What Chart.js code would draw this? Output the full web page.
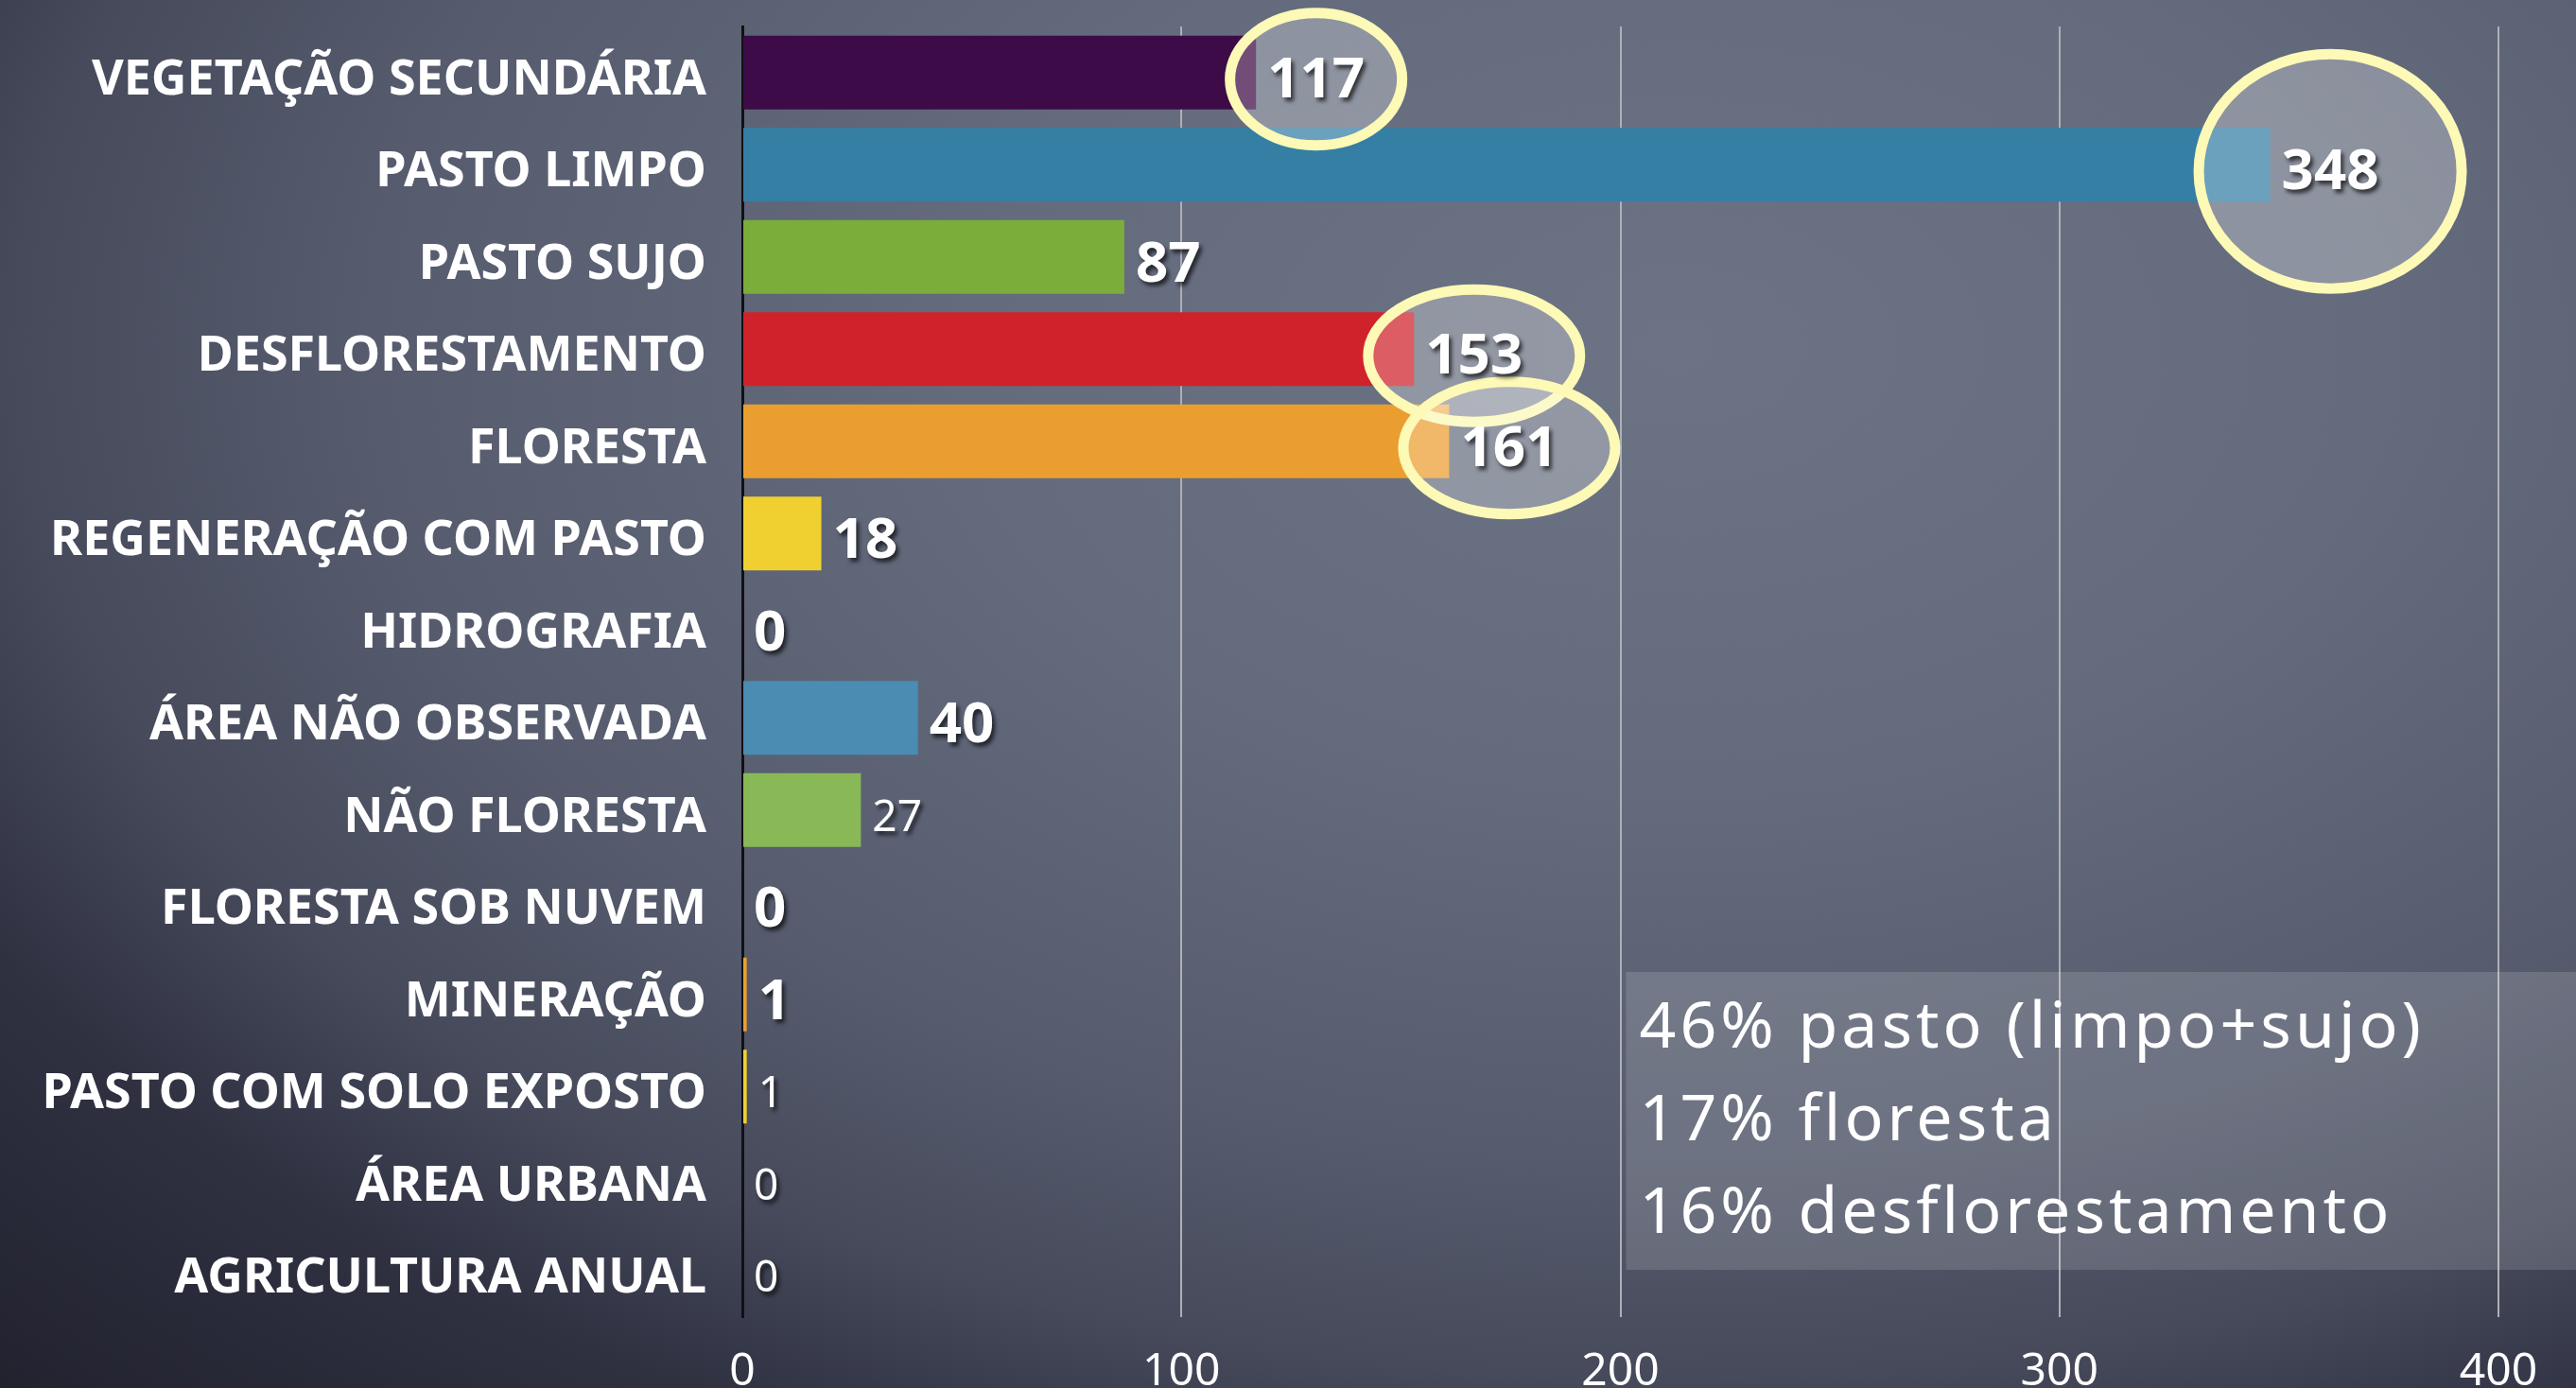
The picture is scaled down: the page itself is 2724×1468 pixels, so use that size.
<!DOCTYPE html>
<html>
<head>
<meta charset="utf-8">
<script src="https://cdn.jsdelivr.net/npm/chart.js@4.4.0/dist/chart.umd.min.js"></script>
<style>
  html, body { margin: 0; padding: 0; width: 2724px; height: 1468px; overflow: hidden; }
  body {
    background: radial-gradient(ellipse at 65% 25%, #6c7384 0%, #646b7d 30%, #565c6e 55%, #464a5b 70%, #2f3141 82%, #22222f 100%);
  }
  canvas { display: block; }
</style>
</head>
<body>
<canvas id="chart" width="2724" height="1468"></canvas>
<script>
const categories = [
  "VEGETAÇÃO SECUNDÁRIA", "PASTO LIMPO", "PASTO SUJO", "DESFLORESTAMENTO", "FLORESTA",
  "REGENERAÇÃO COM PASTO", "HIDROGRAFIA", "ÁREA NÃO OBSERVADA", "NÃO FLORESTA",
  "FLORESTA SOB NUVEM", "MINERAÇÃO", "PASTO COM SOLO EXPOSTO", "ÁREA URBANA", "AGRICULTURA ANUAL"
];
const values = [117, 348, 87, 153, 161, 18, 0, 40, 27, 0, 1, 1, 0, 0];
const xTicks = [0, 100, 200, 300, 400];
const highlighted = [0, 1, 3, 4];
const notes = ["46% pasto (limpo+sujo)", "17% floresta", "16% desflorestamento"];

// styles
const barColors = ["#3d0b47", "#357fa5", "#7aad3a", "#d0222b", "#eb9e30", "#f0d030",
                   "#3d0b47", "#4a8cb2", "#89b856", "#d0222b", "#eb9e30", "#f0d030",
                   "#3d0b47", "#4a8cb2"];
const bigLabel = [true, true, true, true, true, true, true, true, false, true, true, false, false, false];
const circleSize = { 0: [91, 70], 1: [139, 124], 3: [112, 70], 4: [112, 70] };
const FONT = "'Noto Sans', 'DejaVu Sans', sans-serif";

const annotations = {
  id: "annotations",
  afterDatasetsDraw(chart) {
    const ctx = chart.ctx;
    const meta = chart.getDatasetMeta(0);
    const labelFont = i => bigLabel[i] ? "bold 60px " + FONT : "46px " + FONT;

    // highlight circles
    highlighted.forEach(i => {
      const bar = meta.data[i];
      ctx.save();
      ctx.font = labelFont(i);
      const w = ctx.measureText(String(values[i])).width;
      const cx = bar.x + 12 + w / 2;
      const cy = bar.y + 7;
      const [rx, ry] = circleSize[i];
      ctx.beginPath();
      ctx.ellipse(cx, cy, rx, ry, 0, 0, Math.PI * 2);
      ctx.fillStyle = "rgba(255,255,255,0.27)";
      ctx.fill();
      ctx.lineWidth = 11;
      ctx.strokeStyle = "#fdf9b6";
      ctx.stroke();
      ctx.restore();
    });

    // value labels
    meta.data.forEach((bar, i) => {
      ctx.save();
      ctx.font = labelFont(i);
      ctx.fillStyle = "#ffffff";
      ctx.textAlign = "left";
      ctx.textBaseline = "middle";
      ctx.shadowColor = "rgba(0,0,0,0.65)";
      ctx.shadowOffsetX = 3;
      ctx.shadowOffsetY = 4;
      ctx.shadowBlur = 4;
      ctx.fillText(String(values[i]), bar.x + 12, bar.y + 9);
      ctx.restore();
    });
  },
  afterDraw(chart) {
    const ctx = chart.ctx;
    const xs = chart.scales.x;
    const left = xs.getPixelForValue(200) + 6;
    ctx.save();
    ctx.fillStyle = "rgba(255,255,255,0.14)";
    ctx.fillRect(left, 1028, chart.width - left, 315);
    ctx.fillStyle = "#ffffff";
    ctx.font = "68px " + FONT;
    ctx.letterSpacing = "4px";
    ctx.textAlign = "left";
    ctx.textBaseline = "middle";
    notes.forEach((t, k) => ctx.fillText(t, left + 14, 1089 + k * 98));
    ctx.restore();
  }
};

new Chart(document.getElementById("chart").getContext("2d"), {
  type: "bar",
  data: {
    labels: categories,
    datasets: [{
      data: values,
      backgroundColor: barColors,
      barPercentage: 1,
      categoryPercentage: 0.8
    }]
  },
  options: {
    indexAxis: "y",
    responsive: false,
    animation: false,
    layout: { padding: { top: 28, right: 82, left: 0, bottom: 0 } },
    plugins: { legend: { display: false }, tooltip: { enabled: false } },
    scales: {
      x: {
        min: 0, max: 400,
        afterBuildTicks: s => { s.ticks = xTicks.map(v => ({ value: v })); },
        afterFit: s => { s.height = 75; },
        grid: { color: "#aeb0b6", lineWidth: 2, drawTicks: false },
        border: { display: false },
        ticks: { color: "#ffffff", font: { family: FONT, size: 48 }, padding: 30 }
      },
      y: {
        afterFit: s => { s.width = 785; s.paddingTop = 0; s.paddingBottom = 0; },
        grid: { display: false, drawTicks: false },
        border: { display: true, color: "#111111", width: 3 },
        ticks: { color: "#ffffff", font: { family: FONT, size: 52, weight: "bold" }, padding: 38, autoSkip: false, labelOffset: 8 }
      }
    }
  },
  plugins: [annotations]
});
</script>
</body>
</html>
